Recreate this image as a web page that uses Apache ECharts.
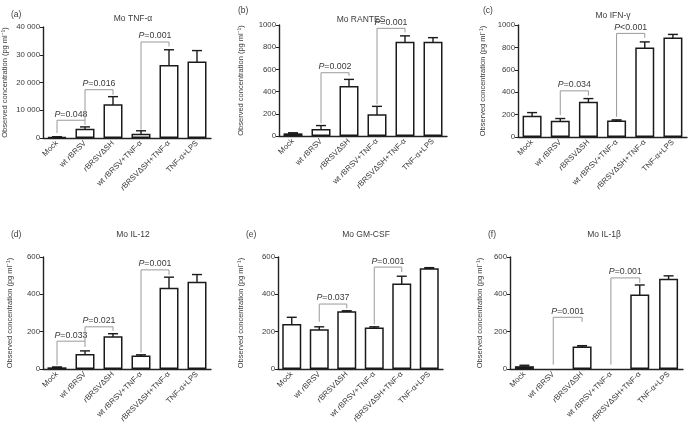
<!DOCTYPE html>
<html><head><meta charset="utf-8">
<script src="https://cdn.jsdelivr.net/npm/echarts@6/dist/echarts.min.js"></script>
<style>html,body{margin:0;padding:0;background:#fff}#c{width:690px;height:430px}</style>
</head><body><div id="c"></div>
<script>
// ---------- DATA ----------
const categories = ['Mock','wt rBRSV','rBRSVΔSH','wt rBRSV+TNF-α','rBRSVΔSH+TNF-α','TNF-α+LPS'];

const tnfMean    = [300, 3300, 12200, 1500, 26300, 27600];
const tnfErr     = [150, 700, 2700, 1100, 5500, 3900];
const rantesMean = [24, 62, 450, 195, 850, 850];
const rantesErr  = [5, 32, 60, 72, 52, 36];
const ifnMean    = [190, 145, 315, 148, 798, 888];
const ifnErr     = [28, 20, 28, 5, 51, 28];
const il12Mean   = [9, 81, 176, 72, 435, 467];
const il12Err    = [2, 16, 13, 4, 57, 39];
const gmcsfMean  = [241, 213, 309, 222, 458, 540];
const gmcsfErr   = [36, 13, 3, 4, 39, 3];
const il1bMean   = [15, null, 121, null, 399, 483];
const il1bErr    = [5, null, 4, null, 51, 16];

// brackets: [fromIndex, toIndex, topValue, leftBottom, rightBottom, label]
const tnfBrackets    = [[0,1,6400,1800,4800,'=0.048'],[1,2,17400,6400,15600,'=0.016'],[3,4,34600,3000,33000,'=0.001']];
const rantesBrackets = [[1,2,570,114,540,'=0.002'],[3,4,970,285,933,'=0.001']];
const ifnBrackets    = [[1,2,412,194,370,'=0.034'],[3,4,925,180,886,'<0.001']];
const il12Brackets   = [[0,1,149,20,118,'=0.033'],[1,2,226,149,205,'=0.021'],[3,4,531,88,505,'=0.001']];
const gmcsfBrackets  = [[1,2,348,253,325,'=0.037'],[3,4,546,239,519,'=0.001']];
const il1bBrackets   = [[1,2,277,23,252,'=0.001'],[3,4,488,23,461,'=0.001']];

const titles  = ['Mo TNF-α','Mo RANTES','Mo IFN-γ','Mo IL-12','Mo GM-CSF','Mo IL-1β'];
const letters = ['(a)','(b)','(c)','(d)','(e)','(f)'];
const yMax      = [40000, 1000, 1000, 600, 600, 600];
const yInterval = [10000, 200, 200, 200, 200, 200];

// ---------- LAYOUT ----------
const panels = [
  {mean: tnfMean, err: tnfErr, br: tnfBrackets},
  {mean: rantesMean, err: rantesErr, br: rantesBrackets},
  {mean: ifnMean, err: ifnErr, br: ifnBrackets},
  {mean: il12Mean, err: il12Err, br: il12Brackets},
  {mean: gmcsfMean, err: gmcsfErr, br: gmcsfBrackets},
  {mean: il1bMean, err: il1bErr, br: il1bBrackets}
];
const grids = [
  {left:43, top:27, width:168, height:111},
  {left:279, top:25, width:168, height:111},
  {left:518, top:25, width:169, height:112},
  {left:43, top:257, width:168, height:112},
  {left:278, top:257, width:165, height:112},
  {left:510, top:257, width:173, height:112}
];
const nameGaps = [34, 34, 31, 29, 33, 26];
const titlePos = [[128,9],[356,10],[608,6],[128,225],[361,225],[599,225]];
const letterPos = [[6,5],[233,1],[478,1],[6,225],[241,225],[483,225]];

const FONT = 'Liberation Sans, Arial, Helvetica, sans-serif';
const TXT = '#3a3a3a';

function catFmt(v){ return v.replace(/rBRSV/g, '{i|r}BRSV'); }
function yFmt(v){ return v >= 10000 ? String(v).replace(/\B(?=(\d{3})+(?!\d))/g, ' ') : String(v); }

const option = {
  backgroundColor: '#fff',
  animation: false,
  title: [],
  grid: [], xAxis: [], yAxis: [], series: []
};

panels.forEach((p, k) => {
  option.grid.push(Object.assign({containLabel:false}, grids[k]));
  option.title.push({text: titles[k], left: titlePos[k][0], top: titlePos[k][1], textAlign:'center',
    textStyle:{fontSize:8.5, fontWeight:'normal', color:TXT, fontFamily:FONT}});
  option.title.push({text: letters[k], left: letterPos[k][0], top: letterPos[k][1],
    textStyle:{fontSize:8.5, fontWeight:'normal', color:TXT, fontFamily:FONT}});
  option.xAxis.push({
    type:'category', gridIndex:k, data: categories,
    axisLine:{lineStyle:{color:'#222', width:1.4}},
    axisTick:{alignWithLabel:true, length:3, lineStyle:{color:'#222'}},
    axisLabel:{rotate:45, interval:0, margin:4, fontSize:7.8, color:TXT, fontFamily:FONT,
      formatter: catFmt, rich:{i:{fontStyle:'italic', fontSize:7.8, color:TXT, fontFamily:FONT}}}
  });
  option.yAxis.push({
    type:'value', gridIndex:k, min:0, max:yMax[k], interval:yInterval[k],
    name:'Observed concentration (pg ml⁻¹)', nameLocation:'middle', nameRotate:90, nameGap:nameGaps[k],
    nameTextStyle:{fontSize:7.5, color:TXT, fontFamily:FONT},
    splitLine:{show:false},
    axisLine:{show:true, lineStyle:{color:'#222', width:1.4}},
    axisTick:{show:true, length:3, lineStyle:{color:'#222'}},
    axisLabel:{fontSize:7.8, color:TXT, fontFamily:FONT, margin:3, formatter:yFmt}
  });
  option.series.push({
    type:'bar', xAxisIndex:k, yAxisIndex:k, data: p.mean, barWidth:19,
    itemStyle:{color:'#fff', borderColor:'#1a1a1a', borderWidth:1.5}, silent:true
  });
  const eb = [];
  p.mean.forEach((m, i) => { if (m !== null && p.err[i] !== null) eb.push([i, m - p.err[i], m + p.err[i]]); });
  option.series.push({
    type:'custom', xAxisIndex:k, yAxisIndex:k, data: eb, encode:{x:0, y:[1,2]}, silent:true,
    renderItem: function(params, api){
      const lo = api.coord([api.value(0), api.value(1)]);
      const hi = api.coord([api.value(0), api.value(2)]);
      const hw = 5;
      const st = {stroke:'#1a1a1a', lineWidth:1.4, fill:null};
      return {type:'group', children:[
        {type:'line', shape:{x1:lo[0], y1:lo[1], x2:hi[0], y2:hi[1]}, style:st},
        {type:'line', shape:{x1:lo[0]-hw, y1:lo[1], x2:lo[0]+hw, y2:lo[1]}, style:st},
        {type:'line', shape:{x1:hi[0]-hw, y1:hi[1], x2:hi[0]+hw, y2:hi[1]}, style:st}
      ]};
    }
  });
  const brData = p.br.map(b => [b[0], b[2], b[1], b[3], b[4]]);
  const brLabels = p.br.map(b => b[5]);
  option.series.push({
    type:'custom', xAxisIndex:k, yAxisIndex:k, data: brData, encode:{x:[0,2], y:[1,3,4]}, silent:true, clip:false,
    renderItem: function(params, api){
      const f = api.value(0), top = api.value(1), t = api.value(2), lb = api.value(3), rb = api.value(4);
      const a = api.coord([f, lb]), b = api.coord([f, top]), c = api.coord([t, top]), d = api.coord([t, rb]);
      return {type:'group', children:[
        {type:'polyline', shape:{points:[a,b,c,d]}, style:{stroke:'#9a9a9a', lineWidth:1, fill:null}},
        {type:'text', style:{x:(b[0]+c[0])/2, y:b[1]-1.5, align:'center', verticalAlign:'bottom',
          text:'{i|P}' + brLabels[params.dataIndex], fill:TXT, fontSize:8.8, fontFamily:FONT,
          rich:{i:{fontStyle:'italic', fontSize:8.8, fill:TXT, fontFamily:FONT}}}}
      ]};
    }
  });
});

const chart = echarts.init(document.getElementById('c'), null, {renderer:'canvas'});
chart.setOption(option);
</script></body></html>
